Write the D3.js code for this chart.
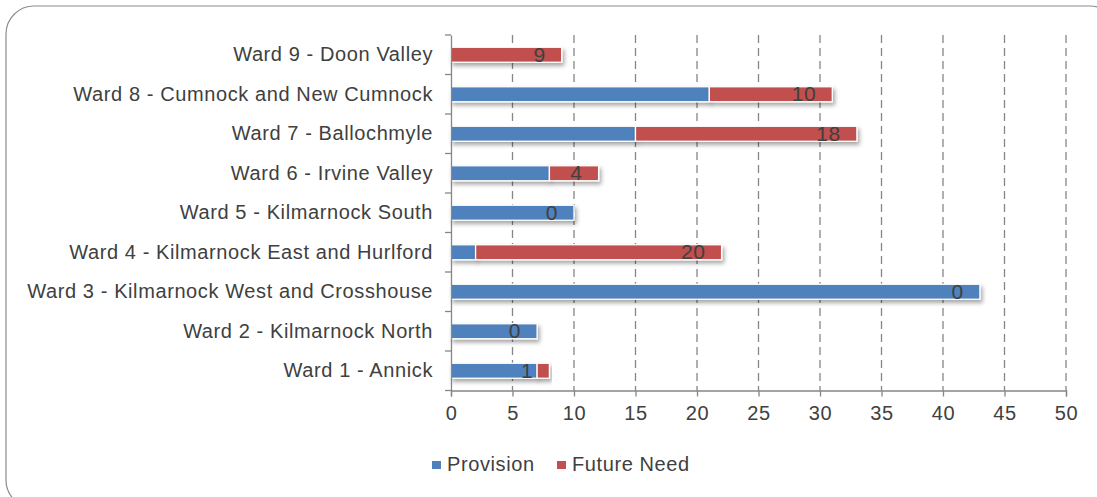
<!DOCTYPE html>
<meta charset="utf-8">
<script src="https://cdn.jsdelivr.net/npm/d3@7"></script>
<style>
body { margin: 0; background: #fff; }
text { font-family: "Liberation Sans", Arial, sans-serif; fill: #404040; letter-spacing: 0.6px; }
.grid line { stroke: #868686; stroke-width: 1.3px; stroke-dasharray: 8 5; }
</style>
<body>
<script>
// wards, bottom to top as drawn
var wards = ["Ward 1 - Annick", "Ward 2 - Kilmarnock North", "Ward 3 - Kilmarnock West and Crosshouse",
  "Ward 4 - Kilmarnock East and Hurlford", "Ward 5 - Kilmarnock South", "Ward 6 - Irvine Valley",
  "Ward 7 - Ballochmyle", "Ward 8 - Cumnock and New Cumnock", "Ward 9 - Doon Valley"];
var provision = [7, 7, 43, 2, 10, 8, 15, 21, 0];
var futureNeed = [1, 0, 0, 20, 0, 4, 18, 10, 9];
var xTicks = [0, 5, 10, 15, 20, 25, 30, 35, 40, 45, 50];
var seriesNames = ["Provision", "Future Need"];
var colors = ["#4F81BD", "#C0504D"];

var width = 1097, height = 497;
var mLeft = 451, mRight = 1066, mTop = 35, mBottom = 390.5;
var fs = "20px";

var svg = d3.select("body").append("svg")
    .attr("width", width)
    .attr("height", height);

var defs = svg.append("defs");
var f = defs.append("filter").attr("id", "shadow")
    .attr("x", "-10%").attr("y", "-50%").attr("width", "130%").attr("height", "250%");
f.append("feDropShadow").attr("dx", 2).attr("dy", 3).attr("stdDeviation", 2)
    .attr("flood-color", "#000").attr("flood-opacity", 0.35);

// frame
svg.append("rect")
    .attr("x", 6).attr("y", 6)
    .attr("width", 1112).attr("height", 502)
    .attr("rx", 28).attr("ry", 28)
    .attr("fill", "none")
    .attr("stroke", "#8c8c8c")
    .attr("stroke-width", 1.2);

var x = d3.scaleLinear().domain([0, 50]).range([mLeft, mRight]);
var y = d3.scaleBand().domain(wards.slice().reverse()).range([mTop, mBottom]).paddingInner(0.62).paddingOuter(0.31);
var yb = d3.scaleBand().domain(wards.slice().reverse()).range([mTop, mBottom]);

// gridlines
svg.append("g").attr("class", "grid")
  .selectAll("line")
  .data(xTicks.slice(1))
  .enter().append("line")
    .attr("x1", function(d) { return x(d); })
    .attr("x2", function(d) { return x(d); })
    .attr("y1", mTop)
    .attr("y2", mBottom);

// stacked data
var rows = wards.map(function(w, i) { return { ward: w, Provision: provision[i], "Future Need": futureNeed[i] }; });
var stack = d3.stack().keys(seriesNames)(rows);

var layers = svg.append("g").selectAll("g")
  .data(stack)
  .enter().append("g")
    .attr("fill", function(d, i) { return colors[i]; });

layers.selectAll("rect")
  .data(function(d) { return d.filter(function(s) { return s[1] - s[0] > 0; }); })
  .enter().append("rect")
    .attr("x", function(d) { return x(d[0]); })
    .attr("y", function(d) { return y(d.data.ward); })
    .attr("width", function(d) { return x(d[1]) - x(d[0]); })
    .attr("height", y.bandwidth())
    .attr("stroke", "#fff")
    .attr("stroke-width", 1.3)
    .attr("filter", "url(#shadow)");

// axes
var xAxis = svg.append("g")
    .attr("transform", "translate(0," + mBottom + ")")
    .call(d3.axisBottom(x).tickValues(xTicks).tickSize(6).tickPadding(9));
xAxis.selectAll("text").style("font-size", fs).attr("fill", "#404040");

var yAxis = svg.append("g")
    .attr("transform", "translate(" + mLeft + ",0)")
    .call(d3.axisLeft(yb).tickSize(0).tickPadding(18));
yAxis.selectAll("text").style("font-size", fs).attr("fill", "#404040");
// band boundary ticks on the value axis
svg.append("g").selectAll("line")
  .data(d3.range(wards.length + 1))
  .enter().append("line")
    .attr("x1", mLeft - 6).attr("x2", mLeft)
    .attr("y1", function(i) { return mTop + i * yb.step(); })
    .attr("y2", function(i) { return mTop + i * yb.step(); })
    .attr("stroke", "#868686").attr("stroke-width", 1.3);

[xAxis, yAxis].forEach(function(a) {
  a.select(".domain").attr("stroke", "#868686").attr("stroke-width", 1.3);
  a.selectAll(".tick line").attr("stroke", "#868686").attr("stroke-width", 1.3);
});

// future need labels at the end of each stack
svg.append("g").selectAll("text")
  .data(rows)
  .enter().append("text")
    .attr("x", function(d) { return x(d.Provision + d["Future Need"]) - 16; })
    .attr("y", function(d) { return y(d.ward) + y.bandwidth() / 2 + 7; })
    .attr("text-anchor", "end")
    .style("font-size", "21px")
    .text(function(d) { return d["Future Need"]; });

// legend
var legend = svg.append("g").attr("transform", "translate(0,464)");
var legX = [432, 557];
seriesNames.forEach(function(s, i) {
  legend.append("rect")
    .attr("x", legX[i]).attr("y", -3)
    .attr("width", 9).attr("height", 8)
    .attr("fill", colors[i]);
  legend.append("text")
    .attr("x", legX[i] + 15).attr("y", 7)
    .style("font-size", fs)
    .text(s);
});
</script>
</body>
</html>
